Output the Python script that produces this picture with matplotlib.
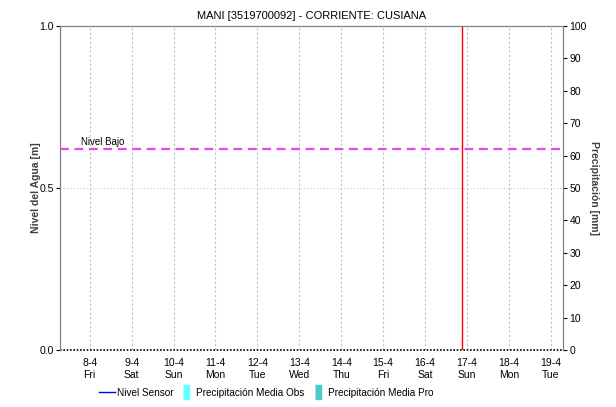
import datetime as dt
import matplotlib
matplotlib.use("Agg")
import matplotlib.pyplot as plt
from matplotlib.lines import Line2D

# --- Datos ---
titulo = "MANI [3519700092] - CORRIENTE: CUSIANA"
inicio = dt.datetime(2022, 4, 7, 7, 0)
fin = dt.datetime(2022, 4, 19, 7, 0)
dias_ticks = [dt.datetime(2022, 4, d) for d in range(8, 20)]
nivel_bajo = 0.62
hora_actual = dt.datetime(2022, 4, 16, 21, 10)
nivel_sensor_t = [inicio, fin]
nivel_sensor_v = [0.0, 0.0]

plt.rcParams['font.family'] = ['Liberation Sans', 'DejaVu Sans']

fig = plt.figure(figsize=(6.16, 4.07), dpi=100)
ax = fig.add_axes([0.0974, 0.140, 0.8166, 0.796])
ax2 = ax.twinx()

# --- Ejes ---
ax.set_xlim(inicio, fin)
ax.set_ylim(0, 1)
ax2.set_ylim(0, 100)
ax.set_yticks([0.0, 0.5, 1.0])
ax.set_yticklabels(["0.0", "0.5", "1.0"])
ax2.set_yticks(range(0, 101, 10))

ax.set_xticks(dias_ticks)
ax.set_xticklabels([f"{d.day}-{d.month}\n{d.strftime('%a')}" for d in dias_ticks])

for a in (ax, ax2):
    for s in a.spines.values():
        s.set_color("#808080")
    a.tick_params(labelsize=7.5, colors="black", length=3, width=0.8, pad=1.5)
ax.tick_params(axis='x', length=0, pad=6)
ax.spines['bottom'].set_visible(False)
ax2.spines['bottom'].set_visible(False)

# rejilla
for d in dias_ticks:
    ax.axvline(d, color="#c0c0c0", lw=0.8, ls=(0, (2, 2)), zorder=0)
ax.axhline(0.5, color="#c8c8c8", lw=0.8, ls=(0, (1, 2)), zorder=0)

# --- Series ---
ax.plot(nivel_sensor_t, nivel_sensor_v, color="black", lw=1.2, ls=(0, (1, 1)), clip_on=False, zorder=3)
ax.axhline(nivel_bajo, color="#ee44ee", lw=1.6, ls=(0, (4, 2.5)), zorder=2)
ax.text(dt.datetime(2022, 4, 7, 19, 0), nivel_bajo + 0.008, "Nivel Bajo", fontsize=7, va="bottom")
ax.axvline(hora_actual, color="#ff0000", lw=1.0, zorder=2)

# --- Etiquetas ---
ax.set_title(titulo, fontsize=8, pad=5)
ax.set_ylabel("Nivel del Agua [m]", fontsize=7.5, fontweight="bold", color="#404040", labelpad=-1)
ax2.set_ylabel("Precipitación [mm]", fontsize=7.5, fontweight="bold", color="#404040", rotation=270, labelpad=9)

barra = [(-0.5, -1), (0.5, -1), (0.5, 1), (-0.5, 1)]
handles = [Line2D([0], [0], color="blue", lw=1),
           Line2D([0], [0], ls="none", marker=barra, markersize=10, color="#66ffff"),
           Line2D([0], [0], ls="none", marker=barra, markersize=10, color="#4cc9c9")]
labels = ["Nivel Sensor", "Precipitación Media Obs", "Precipitación Media Pro"]
fig.legend(handles, labels, loc="center", bbox_to_anchor=(0.432, 0.035), ncol=3, frameon=False,
           fontsize=7.2, handlelength=1.6, handletextpad=0.2, columnspacing=0.5)

fig.savefig("out.png", dpi=100)
